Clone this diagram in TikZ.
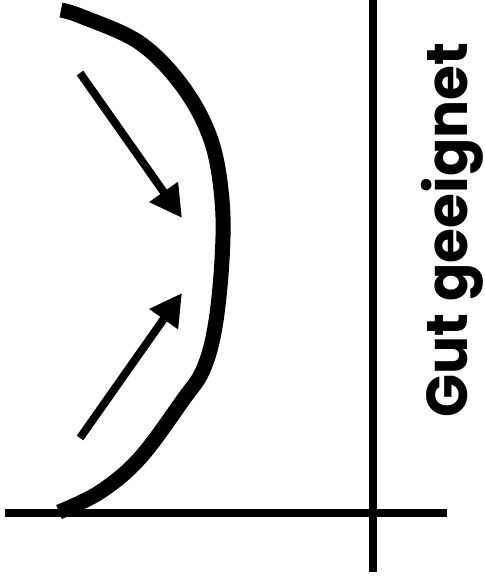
\documentclass[tikz,border=0pt]{standalone}
\usepackage{fontspec}
\newfontfamily\labelfont{Poppins}
\usetikzlibrary{arrows.meta}

\tikzset{
    axis line/.style={line width=7.5pt},
    fit curve/.style={line width=15pt},
    push arrow/.style={line width=8pt, -{Triangle[length=32pt,width=33pt]}},
    side label/.style={font=\labelfont\bfseries\fontsize{56}{60}\selectfont, rotate=90, inner sep=0pt}
}

\begin{document}
\begin{tikzpicture}[x=1pt,y=-1pt]
    \useasboundingbox (0,0) rectangle (485,582);
    % axes
    \coordinate (ytop) at (373,0);
    \coordinate (ybot) at (373,572);
    \coordinate (xleft) at (5,513);
    \coordinate (xright) at (447,513);
    \draw[axis line] (ytop) -- (ybot);
    \draw[axis line] (xleft) -- (xright);
    % curve
    \draw[fit curve] plot[smooth, tension=0.6] coordinates {(61,10) (83,17) (140,43) (183,87) (211,140) (222,200) (222,260) (215,327) (203,370) (183,400) (140,458) (100,492) (59,512)};
    % arrows
    \coordinate (a1) at (80,73);
    \coordinate (t1) at (182,218);
    \coordinate (a2) at (80,438);
    \coordinate (t2) at (182,293);
    \draw[push arrow] (a1) -- (t1);
    \draw[push arrow] (a2) -- (t2);
    % label
    \node[side label] (lbl) at (452,230) {\scalebox{1.01}[1.03]{Gut geeignet}};
\end{tikzpicture}
\end{document}
